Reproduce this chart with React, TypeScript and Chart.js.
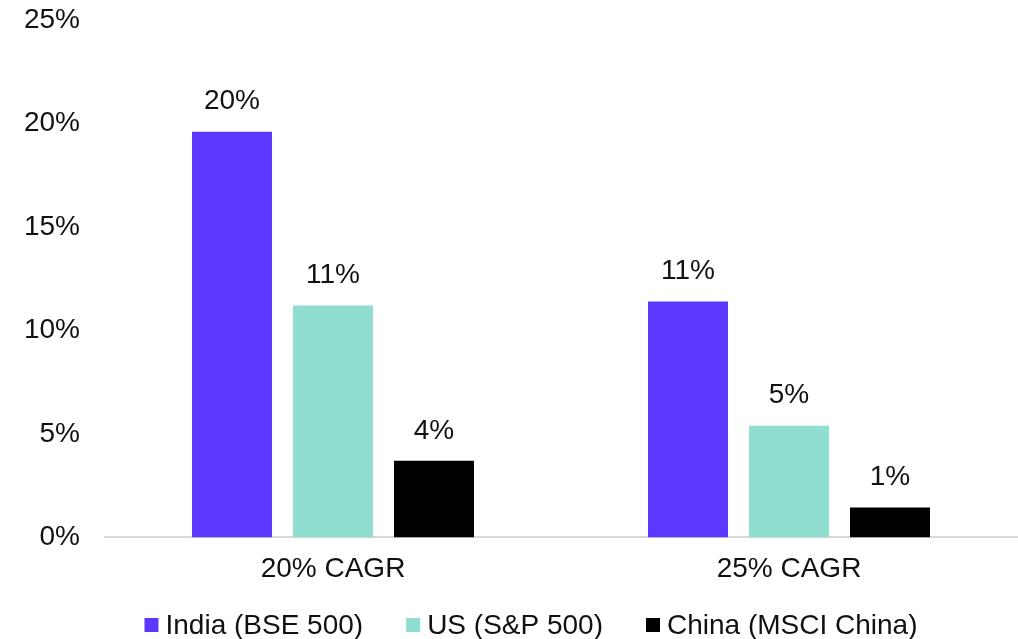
import React, { useEffect, useRef } from "react";
import { Chart, registerables } from "chart.js";

Chart.register(...registerables);

const categories = ["20% CAGR", "25% CAGR"];
const seriesNames = ["India (BSE 500)", "US (S&P 500)", "China (MSCI China)"];
const indiaValues = [19.6, 11.4];
const usValues = [11.2, 5.4];
const chinaValues = [3.7, 1.45];
const seriesColors = ["#5B37FF", "#8FDECF", "#000000"];
const yTicks = [0, 5, 10, 15, 20, 25];

const FONT = "'Liberation Sans', Arial, Helvetica, sans-serif";
const TEXT = "#111111";
const FS = 28;

const valueLabels = {
  id: "valueLabels",
  afterDatasetsDraw(chart: any) {
    const ctx = chart.ctx;
    ctx.save();
    ctx.font = `${FS}px ${FONT}`;
    ctx.fillStyle = TEXT;
    ctx.textAlign = "center";
    ctx.textBaseline = "middle";
    chart.data.datasets.forEach((ds: any, i: number) => {
      const meta = chart.getDatasetMeta(i);
      meta.data.forEach((bar: any, j: number) => {
        const v = ds.data[j];
        ctx.fillText(Math.round(v) + "%", bar.x, bar.y - 30);
      });
    });
    ctx.restore();
  },
};

const customLegend = {
  id: "customLegend",
  afterDraw(chart: any) {
    const ctx = chart.ctx;
    ctx.save();
    ctx.font = `${FS}px ${FONT}`;
    ctx.textBaseline = "middle";
    ctx.textAlign = "left";
    const box = 14;
    const gap = 7;
    const spacing = 43;
    const items = chart.data.datasets.map((ds: any) => ({
      label: ds.label,
      color: ds.backgroundColor,
      w: ctx.measureText(ds.label).width,
    }));
    const total =
      items.reduce((s: number, it: any) => s + box + gap + it.w, 0) +
      spacing * (items.length - 1);
    let x = chart.width / 2 + 22 - total / 2;
    const y = 625;
    items.forEach((it: any) => {
      ctx.fillStyle = it.color;
      ctx.fillRect(x, y - box / 2, box, box);
      ctx.fillStyle = TEXT;
      ctx.fillText(it.label, x + box + gap, y + 1);
      x += box + gap + it.w + spacing;
    });
    ctx.restore();
  },
};

export default function App() {
  const ref = useRef<HTMLCanvasElement>(null);
  useEffect(() => {
    if (!ref.current) return;
    const values = [indiaValues, usValues, chinaValues];
    const chart = new Chart(ref.current, {
      type: "bar",
      data: {
        labels: categories,
        datasets: seriesNames.map((name, i) => ({
          label: name,
          data: values[i],
          backgroundColor: seriesColors[i],
          borderWidth: 0,
          categoryPercentage: 0.6645,
          barPercentage: 0.792,
        })),
      },
      options: {
        animation: false,
        responsive: false,
        layout: { padding: { left: 10, right: 1, top: 0, bottom: 38 } },
        plugins: {
          legend: { display: false },
          tooltip: { enabled: false },
        },
        scales: {
          x: {
            grid: { display: false, drawTicks: false },
            border: { display: true, color: "#d9d9d9", width: 2 },
            ticks: {
              color: TEXT,
              font: { family: FONT, size: FS },
              padding: 15,
            },
          },
          y: {
            min: 0,
            max: 25,
            afterBuildTicks: (scale: any) => {
              scale.ticks = yTicks.map((v) => ({ value: v }));
            },
            afterFit: (scale: any) => {
              scale.width = 95;
              scale.paddingTop = 20;
            },
            grid: { display: false, drawTicks: false },
            border: { display: false },
            ticks: {
              color: TEXT,
              font: { family: FONT, size: FS },
              padding: 25,
              callback: (v: any) => v + "%",
            },
          },
        },
      },
      plugins: [valueLabels, customLegend],
    });
    return () => chart.destroy();
  }, []);
  return (
    <div style={{ position: "absolute", left: 0, top: 0, width: 1018, height: 639 }}>
      <canvas ref={ref} width={1018} height={639} style={{ display: "block" }} />
    </div>
  );
}
